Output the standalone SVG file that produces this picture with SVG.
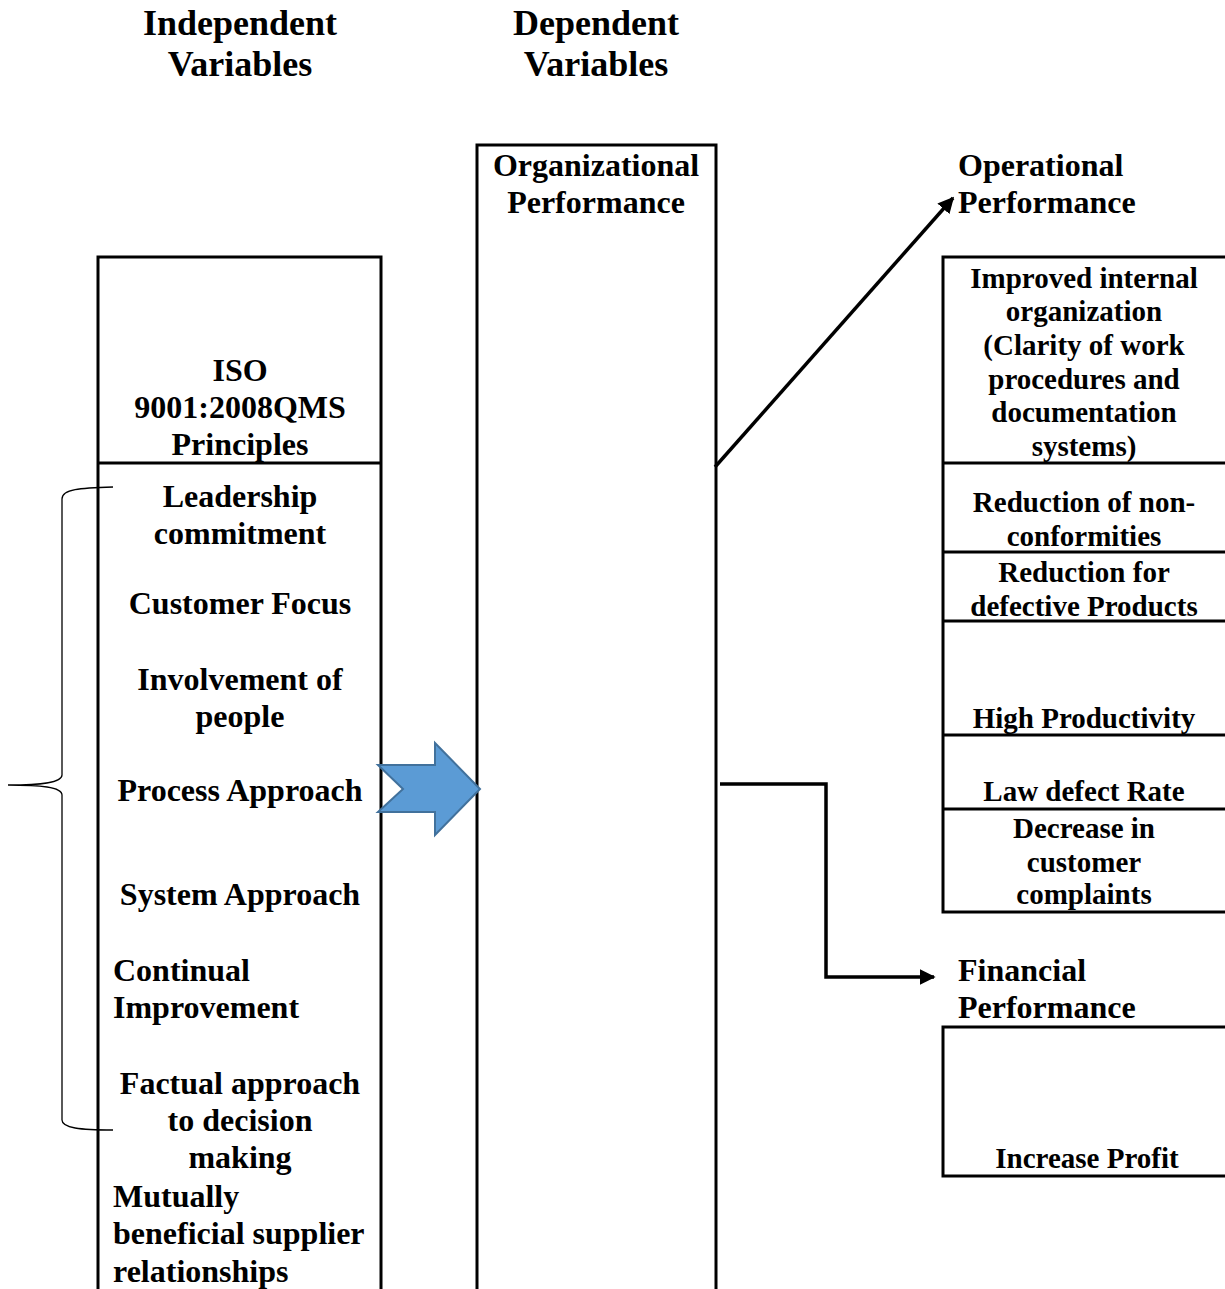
<svg xmlns="http://www.w3.org/2000/svg" width="1225" height="1289" viewBox="0 0 1225 1289">
<defs>
<style>
text{font-family:"Liberation Serif","Times New Roman",serif;font-weight:bold;fill:#000}
.h{font-size:36px}
.b{font-size:32px}
.s{font-size:29px}
.c{text-anchor:middle}
.box{fill:#fff;stroke:#000;stroke-width:3}
.ln{stroke:#000;stroke-width:3;fill:none}
.con{stroke:#000;stroke-width:3.5;fill:none}
</style>
<marker id="ah" viewBox="0 0 10 10" refX="9" refY="5" markerWidth="4.6" markerHeight="4.6" orient="auto" markerUnits="strokeWidth">
<path d="M0,0 L10,5 L0,10 Z" fill="#000"/>
</marker>
</defs>
<rect width="1225" height="1289" fill="#fff"/>

<g id="headers">
<text class="h c" x="240" y="35">Independent</text>
<text class="h c" x="240" y="76">Variables</text>
<text class="h c" x="596" y="35">Dependent</text>
<text class="h c" x="596" y="76">Variables</text>
</g>

<g id="iso-box">
<rect class="box" x="98" y="257" width="283" height="1036"/>
<line class="ln" x1="98" y1="463" x2="381" y2="463"/>
<text class="b c" x="240" y="381">ISO</text>
<text class="b c" x="240" y="418">9001:2008QMS</text>
<text class="b c" x="240" y="455">Principles</text>
<text class="b c" x="240" y="507">Leadership</text>
<text class="b c" x="240" y="544">commitment</text>
<text class="b c" x="240" y="614">Customer Focus</text>
<text class="b c" x="240" y="690">Involvement of</text>
<text class="b c" x="240" y="727">people</text>
<text class="b c" x="240" y="801">Process Approach</text>
<text class="b c" x="240" y="905">System Approach</text>
<text class="b" x="113" y="981">Continual</text>
<text class="b" x="113" y="1018">Improvement</text>
<text class="b c" x="240" y="1094">Factual approach</text>
<text class="b c" x="240" y="1131">to decision</text>
<text class="b c" x="240" y="1168">making</text>
<text class="b" x="113" y="1207">Mutually</text>
<text class="b" x="113" y="1244">beneficial supplier</text>
<text class="b" x="113" y="1282">relationships</text>
</g>

<g id="brace">
<path d="M113,487 C80,488 62,489 62,499 L62,775 C62,783 40,785 8,785 C40,785 62,787 62,795 L62,1120 C62,1128 80,1130 113,1130" fill="none" stroke="#000" stroke-width="1.3"/>
</g>

<g id="org-box">
<rect class="box" x="477" y="145" width="239" height="1148"/>
<text class="b c" x="596" y="176">Organizational</text>
<text class="b c" x="596" y="213">Performance</text>
</g>

<g id="blue-arrow">
<path d="M378,765 L435,765 L435,743 L480,789 L435,835 L435,812 L378,812 L403,789 Z" fill="#5B9BD5" stroke="#41719C" stroke-width="2"/>
</g>

<g id="operational">
<text class="b" x="958" y="176">Operational</text>
<text class="b" x="958" y="213">Performance</text>
</g>

<g id="operational-box">
<rect class="box" x="943" y="257" width="290" height="655"/>
<line class="ln" x1="943" y1="463" x2="1230" y2="463"/>
<line class="ln" x1="943" y1="552" x2="1230" y2="552"/>
<line class="ln" x1="943" y1="621" x2="1230" y2="621"/>
<line class="ln" x1="943" y1="735" x2="1230" y2="735"/>
<line class="ln" x1="943" y1="809" x2="1230" y2="809"/>
<text class="s c" x="1084" y="288">Improved internal</text>
<text class="s c" x="1084" y="321">organization</text>
<text class="s c" x="1084" y="355">(Clarity of work</text>
<text class="s c" x="1084" y="389">procedures and</text>
<text class="s c" x="1084" y="422">documentation</text>
<text class="s c" x="1084" y="456">systems)</text>
<text class="s c" x="1084" y="512">Reduction of non-</text>
<text class="s c" x="1084" y="546">conformities</text>
<text class="s c" x="1084" y="582">Reduction for</text>
<text class="s c" x="1084" y="616">defective Products</text>
<text class="s c" x="1084" y="728">High Productivity</text>
<text class="s c" x="1084" y="801">Law defect Rate</text>
<text class="s c" x="1084" y="838">Decrease in</text>
<text class="s c" x="1084" y="872">customer</text>
<text class="s c" x="1084" y="904">complaints</text>
</g>

<g id="financial">
<text class="b" x="958" y="981">Financial</text>
<text class="b" x="958" y="1018">Performance</text>
</g>

<g id="financial-box">
<rect class="box" x="943" y="1027" width="290" height="149"/>
<text class="s c" x="1087" y="1168">Increase Profit</text>
</g>

<g id="connectors">
<line class="con" x1="715" y1="467" x2="953" y2="198" marker-end="url(#ah)"/>
<polyline class="con" points="720,784 826,784 826,977 934,977" marker-end="url(#ah)"/>
</g>
</svg>
